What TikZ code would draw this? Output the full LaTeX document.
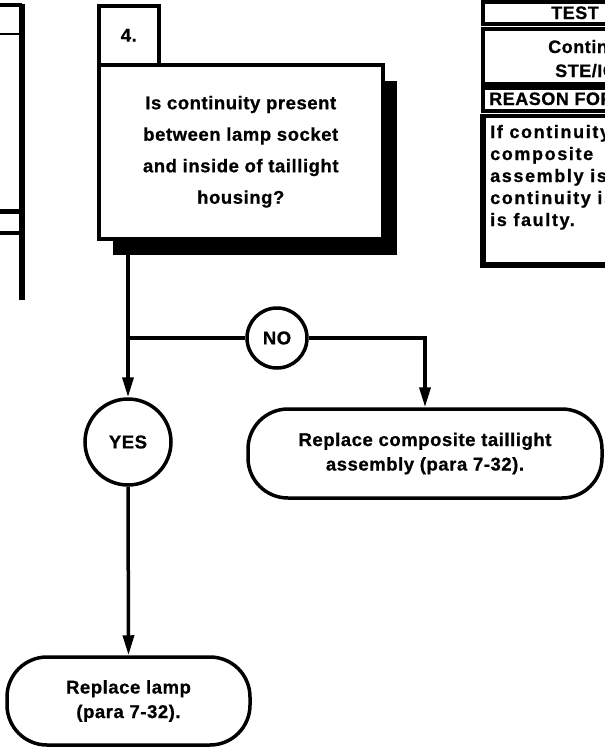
\documentclass[tikz,border=0pt]{standalone}
\usepackage{fontspec}
\setmainfont{Liberation Sans}[LetterSpace=3, FakeBold=0.8]
\usetikzlibrary{arrows.meta,shadows}

\tikzset{
  ink/.style={line width=3.5pt},
  txt/.style={font=\bfseries\fontsize{18.5}{24.5}\selectfont},
  stepbox/.style={ink, draw, fill=white, inner sep=0pt, txt, align=center},
  shadowed/.style={drop shadow={shadow xshift=14pt, shadow yshift=-16pt, fill=black, opacity=1}},
  answer/.style={ink, draw, fill=white, circle, inner sep=0pt, txt},
  endbox/.style={ink, draw, fill=white, rounded corners=40pt, inner sep=0pt, txt, align=center},
  flow/.style={ink, -{Triangle[length=20pt,width=11pt]}},
  tabtxt/.style={font=\bfseries\fontsize{18}{22}\selectfont, inner sep=0pt, anchor=base west},
  bodytxt/.style={tabtxt, font=\bfseries\fontsize{18}{22}\selectfont\addfontfeature{LetterSpace=9}},
}

\begin{document}
\begin{tikzpicture}[x=1pt,y=-1pt]
\useasboundingbox (0,0) rectangle (605,750);
\clip (0,0) rectangle (605,750);

% tail of the previous step, cut by the left margin
\draw[ink] (-10,5) -- (22,5);
\draw[line width=2.5pt] (-10,34) -- (22,34);
\draw[line width=5pt] (-10,211) -- (22,211);
\draw[ink] (-10,233) -- (22,233);
\draw[line width=5.5pt] (22,4) -- (22,300);

% step 4 question
\node[stepbox, anchor=north west, minimum width=60pt, minimum height=59pt] (num) at (97,4) {4.};
\node[stepbox, shadowed, anchor=north west, minimum width=284pt, minimum height=174pt,
      font=\bfseries\fontsize{18.5}{31.5}\selectfont] (q) at (97,63)
  {Is continuity present\\between lamp socket\\and inside of taillight\\housing?};

% answers
\node[answer, minimum size=60pt] (no) at (277,338) {NO};
\node[answer, minimum size=86pt] (yes) at (128,442) {YES};
\coordinate (j) at (128,338);

% actions
\node[endbox, minimum width=354pt, minimum height=89pt] (comp) at (425,453.5)
  {Replace composite taillight\\assembly (para 7-32).};
\node[endbox, minimum width=243pt, minimum height=88pt] (lamp) at (128.5,701)
  {Replace lamp\\(para 7-32).};

% connectors
\draw[flow] (q.south -| yes) -- (yes.north);
\draw[ink] (j) -- (no.west);
\draw[flow] (no.east) -| (comp.north);
\draw[flow] (yes.south) -- (lamp.north);

% test equipment / reason table, cut by the right margin
\draw[ink] (483,2) rectangle (640,24);
\draw[ink] (483,29) rectangle (640,84);
\draw[ink] (483,88) rectangle (640,111);
\draw[ink] (483,116) rectangle (640,264);
\draw[line width=5.5pt] (483,114) -- (483,265) -- (640,265);

\node[tabtxt] (t1) at (551,19) {TEST};
\node[tabtxt] (t2) at (548,53) {Continuity};
\node[tabtxt] (t3) at (555,77) {STE/ICE};
\node[tabtxt] (t4) at (489,105) {REASON FOR};
\node[bodytxt] (r1) at (490,138) {If continuity};
\node[bodytxt] (r2) at (490,160) {composite};
\node[bodytxt] (r3) at (490,182) {assembly is};
\node[bodytxt] (r4) at (490,204) {continuity is};
\node[bodytxt] (r5) at (490,226) {is faulty.};
\end{tikzpicture}
\end{document}
